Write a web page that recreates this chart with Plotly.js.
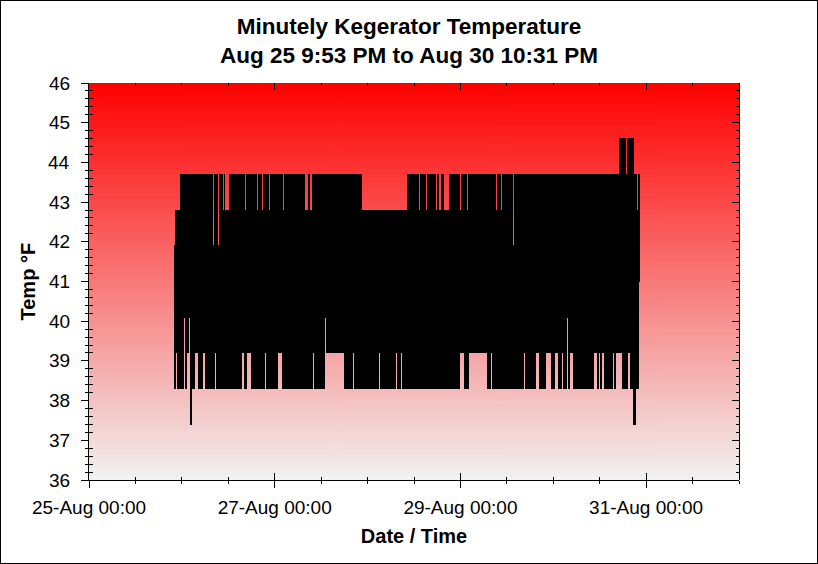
<!DOCTYPE html>
<html><head><meta charset="utf-8">
<script src="https://cdn.plot.ly/plotly-3.0.1.min.js"></script>
<style>
html,body{margin:0;padding:0;background:#fff;}
#wrap{position:relative;width:818px;height:564px;overflow:hidden;}
#chart{width:818px;height:564px;}
#frame{position:absolute;left:0;top:0;width:818px;height:564px;box-sizing:border-box;border:1px solid #000;pointer-events:none;}
.js-line{shape-rendering:crispEdges;}
</style></head><body>
<div id="wrap"><div id="chart"></div><div id="frame"></div></div>
<script>
// ---- data ----
const titleLines = ['Minutely Kegerator Temperature', 'Aug 25 9:53 PM to Aug 30 10:31 PM'];
const xTitle = 'Date / Time';
const yTitle = 'Temp °F';
const startTime = '2012-08-25 21:53';
const endTime = '2012-08-30 22:31';
const xRange = ['2012-08-25 00:00', '2012-09-01 00:00'];
const yRange = [36, 46];
const yTickValues = [36, 37, 38, 39, 40, 41, 42, 43, 44, 45, 46];
// quantised sensor levels (0.5 °C steps)
const levels = [37.4, 38.3, 39.2, 40.1, 41.0, 41.9, 42.8, 43.7, 44.6];
// per ~15 min block: highest and lowest reading (index into levels)
const blockMaxCodes = [
 "2566566776","7777777677","7767767777","6777767777","5777757777",
 "6766667777","7777777777","7767777777","7777677776","7777776777",
 "7777777777","6777777777","7777777777","7766677666","7777677777",
 "7777776777","7776777777","7767777677","7777677776","6666666666",
 "6666666666","6666656666","6666666666","6666677677","6757777677",
 "7777677777","7777677667","7766666777","7777777767","7777767777",
 "7777777777","7777777777","7777677776","7777777777","7577776777",
 "7677776777","7677777767","7776777777","7777777677","7777777777",
 "7777777776","7777677776","7777777777","7777777777","7777777788",
 "7888878888","888777677"
];
const blockMinCodes = [
 "1121111111","3112230011","1222111112","2111111111","1221112111",
 "1111111111","1112111122","2112222211","2111111111","1221111111",
 "1111222221","1111111121","1111111111","2111121111","2111111111",
 "1132222222","2222222222","2111111111","2111111111","1111111111",
 "1111112111","1111111111","1112111121","1111111111","1111111111",
 "2111111111","1121111211","1111111111","1111211222","2211112222",
 "2222222222","2222211122","1121111111","1121111211","1121111111",
 "1121111111","1111222111","1111222221","1112221111","2111131122",
 "2111111111","1111111111","1122211211","2211111111","1211222222",
 "2111112221","110011145"
];

// ---- build the series ----
function toMs(s){
  const [d,t] = s.split(' ');
  const [Y,M,D] = d.split('-').map(Number);
  const [h,m] = t.split(':').map(Number);
  return Date.UTC(Y, M-1, D, h, m);
}
const maxStr = blockMaxCodes.join('');
const minStr = blockMinCodes.join('');
const nBlocks = Math.min(maxStr.length, minStr.length);
const t0 = toMs(startTime), t1 = toMs(endTime);
const step = (t1 - t0) / nBlocks;
const xs = [], ys = [];
for (let i = 0; i < nBlocks; i++) {
  const t = t0 + i * step;
  xs.push(t);            ys.push(levels[+maxStr[i]]);
  xs.push(t + step / 2); ys.push(levels[+minStr[i]]);
}

// ---- background gradient image ----
const cv = document.createElement('canvas');
cv.width = 4; cv.height = 400;
const ctx = cv.getContext('2d');
const g = ctx.createLinearGradient(0, 0, 0, 400);
g.addColorStop(0, '#ff0000');
g.addColorStop(1, '#f2f2f2');
ctx.fillStyle = g; ctx.fillRect(0, 0, 4, 400);

const FONT = 'Liberation Sans, Arial, Helvetica, sans-serif';
const DAY = 86400000;

const traces = [
  {x: xs, y: ys, mode: 'lines', line: {color: '#000', width: 1, shape: 'hv'}, hoverinfo: 'skip'},
  {x: [], y: [], xaxis: 'x2', yaxis: 'y2', mode: 'lines', hoverinfo: 'skip'},
  {x: [], y: [], xaxis: 'x3', yaxis: 'y3', mode: 'lines', hoverinfo: 'skip'}
];

const xTickOnly = {
  type: 'date', range: xRange, autorange: false, tick0: xRange[0], dtick: 2 * DAY,
  showticklabels: false, showgrid: false, zeroline: false, showline: false
};
const yTickOnly = {
  range: yRange, autorange: false, dtick: 1, tick0: 36, tickwidth: 1, tickcolor: '#000',
  showticklabels: false, showgrid: false, zeroline: false
};

// y tick labels placed on the y scale, just left of the outside ticks
const yLabelNotes = yTickValues.map(v => ({
  text: String(v), xref: 'paper', yref: 'y', x: 0, y: v, xshift: -17,
  xanchor: 'right', yanchor: 'middle', showarrow: false,
  font: {family: FONT, size: 19, color: '#000'}
}));

const layout = {
  width: 818, height: 564,
  margin: {l: 89, r: 79, t: 83, b: 84, pad: 0},
  paper_bgcolor: '#ffffff',
  plot_bgcolor: 'rgba(0,0,0,0)',
  showlegend: false,
  font: {family: FONT, color: '#000', size: 16},
  title: {
    text: titleLines.map(s => '<b>' + s + '</b>').join('<br>'),
    font: {family: FONT, size: 22.5, color: '#000'},
    x: 0.5, xanchor: 'center', xref: 'container',
    y: 1 - 34/564, yanchor: 'top', yref: 'container'
  },
  images: [{
    source: cv.toDataURL(), xref: 'paper', yref: 'paper',
    x: 0, y: 1, sizex: 1, sizey: 1, xanchor: 'left', yanchor: 'top',
    sizing: 'stretch', layer: 'below'
  }],
  annotations: [{
    text: '<b>' + yTitle + '</b>', textangle: -90,
    xref: 'paper', yref: 'paper', x: 0, y: 0.5, xshift: -62,
    xanchor: 'center', yanchor: 'middle', showarrow: false,
    font: {family: FONT, size: 20, color: '#000'}
  }].concat(yLabelNotes),
  xaxis: {
    type: 'date', range: xRange, autorange: false,
    tick0: xRange[0], dtick: 2 * DAY, tickformat: '%d-%b %H:%M',
    ticks: 'outside', ticklen: 7, tickwidth: 1, tickcolor: '#000',
    minor: {dtick: DAY / 2, ticks: 'outside', ticklen: 3, tickwidth: 1, tickcolor: '#000', showgrid: false},
    showline: true, linecolor: '#000', linewidth: 1,
    showgrid: false, zeroline: false,
    tickfont: {family: FONT, size: 19, color: '#000'},
    ticklabelstandoff: 3,
    title: {text: '<b>' + xTitle + '</b>', font: {family: FONT, size: 20, color: '#000'}, standoff: 12}
  },
  yaxis: {
    range: yRange, autorange: false, dtick: 1, tick0: 36,
    ticks: 'outside', ticklen: 7, tickwidth: 1, tickcolor: '#000',
    minor: {dtick: 0.2, ticks: 'outside', ticklen: 3, tickwidth: 1, tickcolor: '#000', showgrid: false},
    showline: true, linecolor: '#000', linewidth: 1,
    showgrid: false, zeroline: false, showticklabels: false
  },
  xaxis2: Object.assign({}, xTickOnly, {
    anchor: 'y2', side: 'bottom', mirror: 'ticks',
    ticks: 'inside', ticklen: 7, tickwidth: 1, tickcolor: '#000',
    minor: {dtick: DAY / 2, ticks: 'inside', ticklen: 3, tickwidth: 1, tickcolor: '#000', showgrid: false}
  }),
  yaxis2: Object.assign({}, yTickOnly, {
    anchor: 'x2', side: 'right', ticks: 'inside', ticklen: 7,
    minor: {dtick: 0.2, ticks: 'inside', ticklen: 3, tickwidth: 1, tickcolor: '#000', showgrid: false},
    showline: true, linecolor: '#000', linewidth: 1
  }),
  xaxis3: Object.assign({}, xTickOnly, {anchor: 'y3', ticks: ''}),
  yaxis3: Object.assign({}, yTickOnly, {
    anchor: 'x3', side: 'left', ticks: '', ticklen: 0,
    minor: {dtick: 0.2, ticks: 'inside', ticklen: 4, tickwidth: 1, tickcolor: '#000', showgrid: false},
    showline: false
  })
};

Plotly.newPlot('chart', traces, layout, {staticPlot: true, displayModeBar: false});
</script>
</body></html>
